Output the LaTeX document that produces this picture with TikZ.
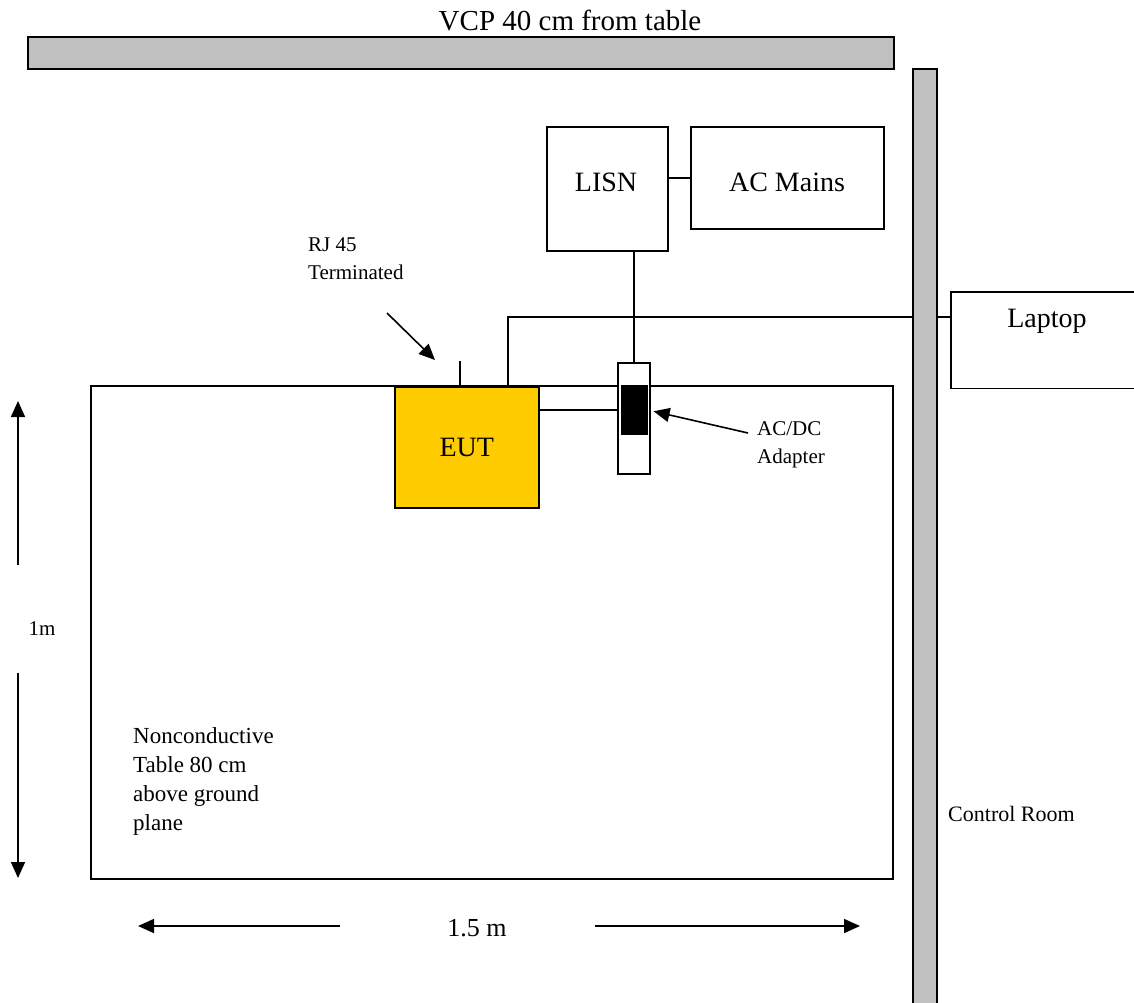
\documentclass[tikz,border=0pt]{standalone}
\usepackage{fontspec}
\setmainfont{Liberation Serif}
\usetikzlibrary{arrows.meta,positioning}
\definecolor{wallgray}{RGB}{192,192,192}
\definecolor{eutyellow}{RGB}{255,204,0}

\begin{document}
\begin{tikzpicture}[x=1pt, y=-1pt,
  box/.style={draw, line width=1.6pt, inner sep=0pt, anchor=north west},
  wallbox/.style={box, fill=wallgray},
  wire/.style={line width=1.6pt},
  arr/.style={-{Triangle[length=16pt, width=14pt]}, line width=1.6pt},
  big/.style={font=\fontsize{28}{32}\selectfont},
  small/.style={font=\fontsize{21}{28}\selectfont, align=left, inner sep=0pt},
  note/.style={font=\fontsize{23}{29}\selectfont, align=left, inner sep=0pt}]
\useasboundingbox (0,0) rectangle (1134,1002);
% shielded room walls
\node[wallbox, minimum width=866, minimum height=32] (vcp) at (27,36) {};
\node[big, anchor=base, font=\fontsize{29}{32}\selectfont] (vcptxt) at (570,30) {VCP 40 cm from table};
% power side
\node[box, minimum width=121, minimum height=124] (lisn) at (546,126) {};
\node[big, anchor=base] (lisntxt) at (606,191) {LISN};
\node[box, minimum width=193, minimum height=102] (mains) at (690,126) {};
\node[big, anchor=base] (mainstxt) at (787,191) {AC Mains};
\draw[wire] (lisn.east |- mains.west) -- (mains.west);
% table and EUT
\node[box, minimum width=802, minimum height=493] (table) at (90,385) {};
\node[box, big, fill=eutyellow, minimum width=144, minimum height=121] (eut) at (394,386) {EUT};
\node[box, fill=white, minimum width=32, minimum height=111] (adapter) at (617,362) {};
\node[box, fill=black, line width=0.6pt, minimum width=26, minimum height=49] (brick) at (621,385) {};
\draw[wire] (adapter.north) -- (adapter.north |- lisn.south);
\draw[wire] ([yshift=-24pt]eut.north east) -- ([yshift=-24pt]eut.north east -| adapter.west);
% RJ 45 stub and LAN cable
\coordinate (rj) at ([xshift=66pt]eut.north west);
\draw[wire] (rj) -- ++(0,-25);
\node[draw=none, inner sep=0pt, anchor=north west, minimum width=183, minimum height=96] (laptop) at (951,292) {};
\draw[wire] (laptop.north east) -- (laptop.north west) -- (laptop.south west) -- (laptop.south east);
\node[big, anchor=base] (laptoptxt) at (1047,327) {Laptop};
\coordinate (lan) at ([xshift=114pt]eut.north west);
\draw[wire] (lan) |- ([yshift=-25pt]laptop.north west);
\node[wallbox, minimum width=24, minimum height=940] (ctrl) at (912,68) {};
% labels and pointers
\node[small, anchor=north west] (rjtxt) at (308,237) {RJ 45\\Terminated};
\coordinate (rjfrom) at (387,313);
\coordinate (rjto) at (435,360);
\draw[arr] (rjfrom) -- (rjto);
\node[small, anchor=north west] (actxt) at (757,421) {AC/DC\\Adapter};
\coordinate (acfrom) at (748,433);
\draw[arr] (acfrom) -- ([xshift=3pt,yshift=7pt]adapter.east);
\node[note, anchor=north west] (tabletxt) at (133,727) {Nonconductive\\Table 80 cm\\above ground\\plane};
\node[note, anchor=base west, font=\fontsize{22}{28}\selectfont] (ctrltxt) at (948,821) {Control Room};
% dimensions
\node[small, anchor=base] (hgt) at (42,635) {1m};
\coordinate (hgttop) at (18,401);
\coordinate (hgtbot) at (18,878);
\draw[arr] (18,565) -- (hgttop);
\draw[arr] (18,673) -- (hgtbot);
\node[big, anchor=base, font=\fontsize{26}{30}\selectfont] (wid) at (477,936) {1.5 m};
\coordinate (widleft) at (138,926);
\coordinate (widright) at (860,926);
\draw[arr] (340,926) -- (widleft);
\draw[arr] (595,926) -- (widright);
\end{tikzpicture}
\end{document}
